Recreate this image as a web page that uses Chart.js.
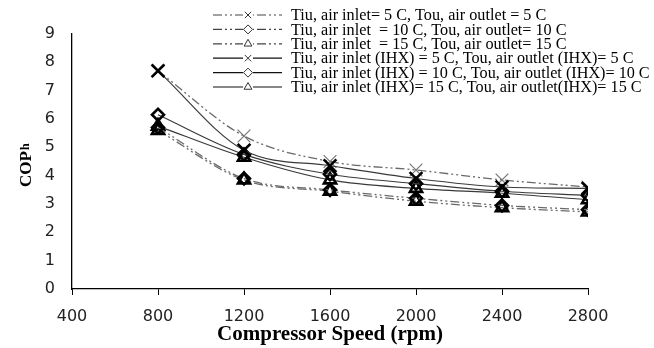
<!DOCTYPE html>
<html>
<head>
<meta charset="utf-8">
<script src="https://cdn.jsdelivr.net/npm/chart.js@4"></script>
<style>
  html, body { margin: 0; padding: 0; background: #fff; }
  #wrap { width: 654px; height: 348px; }
</style>
</head>
<body>
<div id="wrap"><canvas id="copChart"></canvas></div>
<script>
// compressor speeds (rpm)
const speeds = [800, 1200, 1600, 2000, 2400, 2800];

// COP_h values
const cop5 = [7.7, 5.4, 4.5, 4.2, 3.85, 3.6];
const cop10 = [5.7, 3.9, 3.5, 3.2, 2.95, 2.8];
const cop15 = [5.6, 3.85, 3.45, 3.1, 2.87, 2.72];
const cop5Ihx = [7.7, 4.9, 4.35, 3.9, 3.6, 3.55];
const cop10Ihx = [6.15, 4.75, 4.05, 3.72, 3.45, 3.3];
const cop15Ihx = [5.75, 4.65, 3.85, 3.55, 3.38, 3.15];

const seriesLabels = [
    'Tiu, air inlet= 5 C, Tou, air outlet = 5 C',
    'Tiu, air inlet  = 10 C, Tou, air outlet= 10 C',
    'Tiu, air inlet  = 15 C, Tou, air outlet= 15 C',
    'Tiu, air inlet (IHX) = 5 C, Tou, air outlet (IHX)= 5 C',
    'Tiu, air inlet (IHX) = 10 C, Tou, air outlet (IHX)= 10 C',
    'Tiu, air inlet (IHX)= 15 C, Tou, air outlet(IHX)= 15 C'
];

const xTicks = [400, 800, 1200, 1600, 2000, 2400, 2800];

function toPoints(values) {
    return values.map((v, i) => ({ x: speeds[i], y: v }));
}

const dashDotDot = [9, 3, 2, 3, 2, 3];

function makeSet(label, values, style, dashed, light) {
    const size = style === 'crossRot' ? 9 : style === 'rectRot' ? 6 : 7;
    return {
        label: label,
        data: toPoints(values),
        order: light ? 10 : 1, // keep the thin grey crosses underneath
        borderColor: dashed ? '#6a6a6a' : '#3a3a3a',
        borderWidth: dashed ? 1.3 : 1.2,
        borderDash: dashed ? dashDotDot : [],
        pointStyle: style,
        pointRadius: size,
        pointBorderWidth: light ? 1.2 : 2.6,
        pointBorderColor: light ? '#777' : '#000',
        pointBackgroundColor: 'rgba(255,255,255,0)',
        cubicInterpolationMode: 'monotone',
        fill: false
    };
}

// legend with line sample + marker, drawn over the plot like the original
const legendPlugin = {
    id: 'sampleLegend',
    afterDraw(chart) {
        const ctx = chart.ctx;
        ctx.save();
        chart.data.datasets.forEach((ds, i) => {
            const y = 15 + i * 14.4;
            ctx.strokeStyle = ds.borderDash.length ? '#444' : '#111';
            ctx.lineWidth = 1.2;
            ctx.setLineDash(ds.borderDash);
            ctx.beginPath();
            ctx.moveTo(213, y);
            ctx.lineTo(282, y);
            ctx.stroke();
            ctx.setLineDash([]);
            ctx.fillStyle = '#fff';
            ctx.fillRect(243, y - 4, 10, 8);
            ctx.lineWidth = 1;
            ctx.strokeStyle = '#333';
            Chart.helpers.drawPoint(ctx, { pointStyle: ds.pointStyle, radius: 4.5, borderWidth: 1 }, 248, y);
            ctx.fillStyle = '#000';
            ctx.font = '16.2px "Liberation Serif"';
            ctx.textBaseline = 'middle';
            ctx.textAlign = 'left';
            ctx.fillText(ds.label, 291, y + 1);
        });

        // axis titles
        ctx.fillStyle = '#000';
        ctx.font = 'bold 21px "Liberation Serif"';
        ctx.textAlign = 'center';
        ctx.textBaseline = 'middle';
        ctx.fillText('Compressor Speed (rpm)', 330, 335);

        ctx.translate(31, 187);
        ctx.rotate(-Math.PI / 2);
        ctx.font = 'bold 17px "Liberation Serif"';
        ctx.textAlign = 'left';
        ctx.textBaseline = 'alphabetic';
        ctx.fillText('COP', 0, 0);
        const w = ctx.measureText('COP').width;
        ctx.font = 'bold 12px "Liberation Serif"';
        ctx.fillText('h', w + 1, -2);
        ctx.restore();
    }
};

const ctx = document.getElementById('copChart').getContext('2d');
const copChart = new Chart(ctx, {
    type: 'line',
    data: {
        datasets: [
            makeSet(seriesLabels[0], cop5, 'crossRot', true, true),
            makeSet(seriesLabels[1], cop10, 'rectRot', true, false),
            makeSet(seriesLabels[2], cop15, 'triangle', true, false),
            makeSet(seriesLabels[3], cop5Ihx, 'crossRot', false, false),
            makeSet(seriesLabels[4], cop10Ihx, 'rectRot', false, false),
            makeSet(seriesLabels[5], cop15Ihx, 'triangle', false, false)
        ]
    },
    options: {
        responsive: true,
        maintainAspectRatio: false,
        animation: false,
        layout: {
            padding: { left: 0, top: 34, right: 66, bottom: 0 }
        },
        plugins: {
            legend: { display: false },
            tooltip: { enabled: false }
        },
        scales: {
            x: {
                type: 'linear',
                min: 400,
                max: 2800,
                afterBuildTicks: function(scale) {
                    scale.ticks = xTicks.map(v => ({ value: v }));
                },
                afterFit: function(scale) { scale.height = 59; },
                grid: {
                    drawOnChartArea: false,
                    color: '#000',
                    tickLength: 6,
                    tickColor: '#000'
                },
                border: { color: '#000', width: 1.3 },
                ticks: {
                    color: '#222',
                    padding: 12,
                    maxRotation: 0,
                    font: { family: 'DejaVu Sans', size: 16 },
                    callback: function(value) { return String(value); }
                }
            },
            y: {
                min: 0,
                max: 9,
                afterFit: function(scale) { scale.width = 72; },
                grid: {
                    drawOnChartArea: false,
                    drawTicks: false
                },
                border: { color: '#000', width: 1.3 },
                ticks: {
                    stepSize: 1,
                    color: '#222',
                    padding: 17,
                    font: { family: 'DejaVu Sans', size: 16 }
                }
            }
        }
    },
    plugins: [legendPlugin]
});
</script>
</body>
</html>
